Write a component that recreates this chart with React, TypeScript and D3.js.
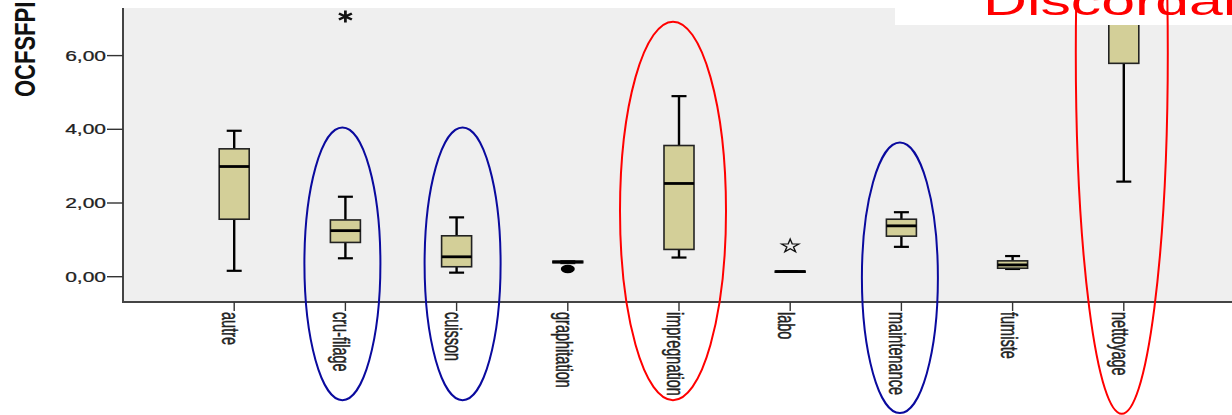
import React from "react";
import * as d3 from "d3";

// categories along x
const categories = [
  "autre",
  "cru-filage",
  "cuisson",
  "graphitation",
  "impregnation",
  "labo",
  "maintenance",
  "fumiste",
  "nettoyage",
];

// box plot statistics (OCFSFPI units)
const whiskerLow = [0.16, 0.5, 0.11, 0.37, 0.52, 0.13, 0.81, 0.21, 2.58];
const q1 = [1.56, 0.93, 0.27, 0.38, 0.74, 0.13, 1.1, 0.23, 5.79];
const median = [2.99, 1.25, 0.54, 0.4, 2.53, 0.14, 1.38, 0.32, 8.0];
const q3 = [3.47, 1.54, 1.11, 0.42, 3.56, 0.15, 1.56, 0.43, 10.0];
const whiskerHigh = [3.96, 2.17, 1.61, 0.42, 4.9, 0.15, 1.75, 0.56, 12.0];

// extreme values (asterisks) and outliers (circles)
const extremeCats = ["cru-filage", "labo"];
const extremeValues = [7.06, 0.83];
const outlierCats = ["graphitation"];
const outlierValues = [0.21];

const yTicks = [0, 2, 4, 6];
const yLabel = "OCFSFPI";
const note = "Discordant";

// hand-drawn ellipses around some categories (top/bottom in data units)
const ringCats = ["cru-filage", "cuisson", "impregnation", "maintenance", "nettoyage"];
const ringColors = ["#0a0a9e", "#0a0a9e", "#ff0000", "#0a0a9e", "#ff0000"];
const ringTop = [4.05, 4.05, 6.92, 3.64, 15.87];
const ringBottom = [-3.35, -3.35, -3.35, -3.7, -3.72];
const ringRx = [38, 38, 53, 38, 46];
const ringDx = [-3, 6, -6, -1.5, -2];

const W = 1232;
const H = 415;
const left = 123;
const top = 8;
const bottom = 302;
const STRETCH = 1.6; // the source picture is stretched sideways
const FONT = "'Liberation Sans', Arial, sans-serif";

export default function App() {
  const x = d3
    .scalePoint<string>()
    .domain(categories)
    .range([left, 1235])
    .padding(1);
  const y = d3.scaleLinear().domain([0, 6]).range([276.7, 55.6]);

  const boxW = 30;
  const capW = 15;

  const asterisk = d3.symbol().type(d3.symbolAsterisk).size(100)() as string;
  const star = d3.symbol().type(d3.symbolStar).size(55)() as string;

  return (
    <svg
      width={W}
      height={H}
      style={{ position: "absolute", left: 0, top: 0, background: "#fff" }}
    >
      <defs>
        <clipPath id="plot">
          <rect x={left} y={top} width={W - left} height={bottom - top} />
        </clipPath>
      </defs>

      <rect x={left} y={top} width={W - left} height={bottom - top} fill="#efefef" />

      <g clipPath="url(#plot)">
        {categories.map((c, i) => {
          const cx = x(c)!;
          return (
            <g key={c}>
              <line
                x1={cx}
                x2={cx}
                y1={y(whiskerHigh[i])}
                y2={y(whiskerLow[i])}
                stroke="#000"
                strokeWidth={2.4}
              />
              <line
                x1={cx - capW / 2}
                x2={cx + capW / 2}
                y1={y(whiskerHigh[i])}
                y2={y(whiskerHigh[i])}
                stroke="#000"
                strokeWidth={2.2}
              />
              <line
                x1={cx - capW / 2}
                x2={cx + capW / 2}
                y1={y(whiskerLow[i])}
                y2={y(whiskerLow[i])}
                stroke="#000"
                strokeWidth={2.2}
              />
              <rect
                x={cx - boxW / 2}
                y={y(q3[i])}
                width={boxW}
                height={Math.max(1, y(q1[i]) - y(q3[i]))}
                fill="#d3cf98"
                stroke="#222"
                strokeWidth={1.6}
              />
              <line
                x1={cx - boxW / 2}
                x2={cx + boxW / 2}
                y1={y(median[i])}
                y2={y(median[i])}
                stroke="#000"
                strokeWidth={2.8}
              />
            </g>
          );
        })}

        {extremeCats.map((c, i) => (
          <path
            key={c}
            d={i === 0 ? asterisk : star}
            transform={`translate(${x(c)!},${y(extremeValues[i])}) scale(${i === 0 ? 1.25 : 1.3},1)`}
            fill="none"
            stroke="#111"
            strokeWidth={i === 0 ? 2.2 : 1.1}
          />
        ))}

        {outlierCats.map((c, i) => (
          <ellipse
            key={c}
            cx={x(c)!}
            cy={y(outlierValues[i])}
            rx={7}
            ry={4.2}
            fill="#000"
          />
        ))}
      </g>

      {/* axes */}
      <line x1={left} x2={left} y1={top} y2={bottom + 1} stroke="#444" strokeWidth={2} />
      <line x1={left - 1} x2={W} y1={bottom} y2={bottom} stroke="#444" strokeWidth={2} />

      {yTicks.map((t) => (
        <g key={t}>
          <line x1={left - 16} x2={left} y1={y(t)} y2={y(t)} stroke="#333" strokeWidth={1.4} />
          <text
            transform={`translate(${left - 17},${y(t) + 5}) scale(1.5,1)`}
            textAnchor="end"
            fontFamily={FONT}
            fontSize={14}
            fill="#222"
            stroke="#222"
            strokeWidth={0.25}
          >
            {d3.format(".2f")(t).replace(".", ",")}
          </text>
        </g>
      ))}

      {categories.map((c) => (
        <g key={c}>
          <line
            x1={x(c)!}
            x2={x(c)!}
            y1={bottom}
            y2={bottom + 9}
            stroke="#333"
            strokeWidth={1.4}
          />
          <text
            transform={`translate(${x(c)! - 12},${bottom + 10}) scale(1.7,1) rotate(90)`}
            fontFamily={FONT}
            fontSize={14.5}
            fill="#222"
            stroke="#222"
            strokeWidth={0.3}
          >
            {c}
          </text>
        </g>
      ))}

      <text
        transform={`translate(35,97) scale(1.3,1) rotate(-90)`}
        fontFamily={FONT}
        fontWeight="bold"
        fontSize={22}
        fill="#111"
      >
        {yLabel}
      </text>

      {/* note box at the top right */}
      <rect x={895} y={0} width={W - 895} height={25} fill="#fff" />
      <text
        transform={`translate(983,15) scale(${STRETCH},1)`}
        fontFamily={FONT}
        fontSize={38}
        fill="#ff0000"
      >
        {note}
      </text>

      {ringCats.map((c, i) => {
        const yt = y(ringTop[i]);
        const yb = y(ringBottom[i]);
        return (
          <ellipse
            key={c}
            cx={x(c)! + ringDx[i]}
            cy={(yt + yb) / 2}
            rx={ringRx[i]}
            ry={(yb - yt) / 2}
            fill="none"
            stroke={ringColors[i]}
            strokeWidth={2}
          />
        );
      })}
    </svg>
  );
}
